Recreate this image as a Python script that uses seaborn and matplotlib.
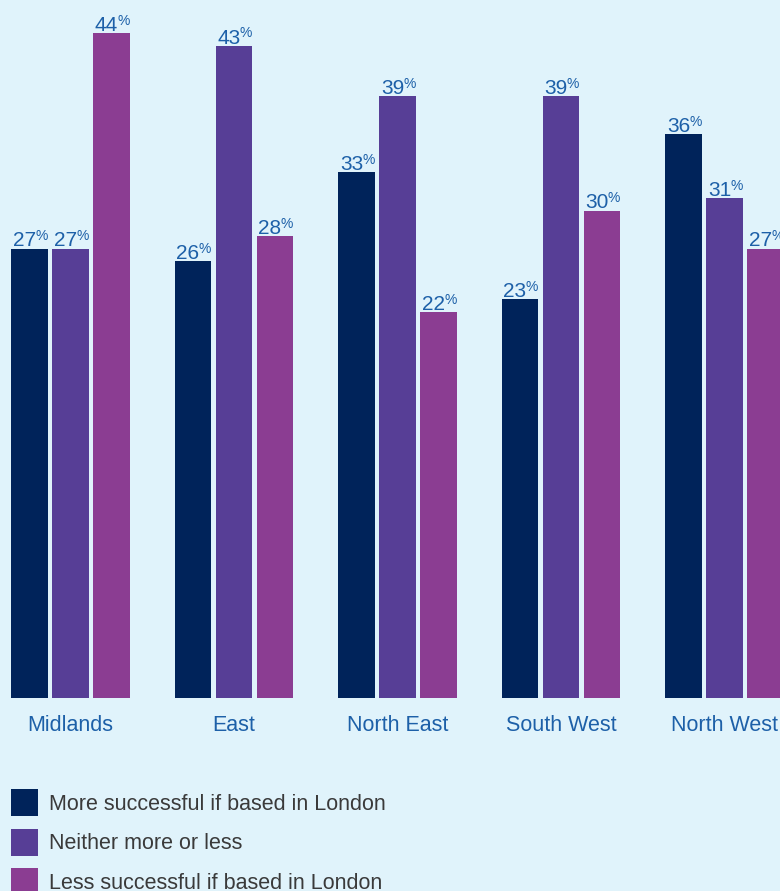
import matplotlib
matplotlib.use("Agg")
import matplotlib.pyplot as plt
import pandas as pd
import seaborn as sns

# Survey: would the business be more or less successful if based in London?
regions = ["Midlands", "East", "North East", "South West", "North West"]
responses = [
    "More successful if based in London",
    "Neither more or less",
    "Less successful if based in London",
]
more_successful = [27, 26, 33, 23, 36]
neither = [27, 43, 39, 39, 31]
less_successful = [44, 28, 22, 30, 27]

colors = ["#00235a", "#573e96", "#8b3d92"]
BG = "#e0f3fb"
LABEL_BLUE = "#1d60a8"
TEXT_GREY = "#3a3a3a"

# bars rise from a floor set below zero
FLOOR = -8.44
TOP = 46.6

value_lists = [more_successful, neither, less_successful]
rows = []
for resp, vals in zip(responses, value_lists):
    for reg, v in zip(regions, vals):
        rows.append({"region": reg, "response": resp, "value": v})
df = pd.DataFrame(rows)
df["span"] = df["value"] - FLOOR

sns.set_theme(style="white")
plt.rcParams["font.family"] = ["Liberation Sans", "DejaVu Sans"]

fig = plt.figure(figsize=(7.8, 8.91), dpi=100, facecolor=BG)
ax = fig.add_axes([0, 1 - 698 / 891, 1, 698 / 891])
ax.set_facecolor(BG)

sns.barplot(
    data=df, x="region", y="span", hue="response",
    order=regions, hue_order=responses, palette=colors,
    width=0.752, gap=0.1, bottom=FLOOR, errorbar=None,
    saturation=1, linewidth=0, legend=False, ax=ax,
)

ax.set_ylim(FLOOR, TOP)
ax.set_xlim(-0.431, 4.339)

# value labels with a small raised percent sign
for container, vals in zip(ax.containers, value_lists):
    for bar, v in zip(container, vals):
        cx = bar.get_x() + bar.get_width() / 2
        ax.annotate(str(v), xy=(cx, v), xytext=(4.7, 1.5),
                    textcoords="offset points", ha="right", va="baseline",
                    fontsize=15, color=LABEL_BLUE)
        ax.annotate("%", xy=(cx, v), xytext=(4.0, 6.0),
                    textcoords="offset points", ha="left", va="baseline",
                    fontsize=10, color=LABEL_BLUE)

ax.set_xlabel("")
ax.set_ylabel("")
ax.set_yticks([])
ax.tick_params(axis="x", length=0, pad=12, labelsize=15.5, labelcolor=LABEL_BLUE)
for s in ax.spines.values():
    s.set_visible(False)

handles = [c.patches[0] for c in ax.containers]
ax.legend(
    handles, responses, loc="upper left",
    bbox_to_anchor=(11 / 780, 1 - 789 / 891), bbox_transform=fig.transFigure,
    frameon=False, fontsize=15.5,
    handlelength=1.26, handleheight=1.555, handletextpad=0.51,
    labelspacing=0.58, borderpad=0, borderaxespad=0, labelcolor=TEXT_GREY,
)

fig.savefig("out.png", dpi=100, facecolor=BG)
